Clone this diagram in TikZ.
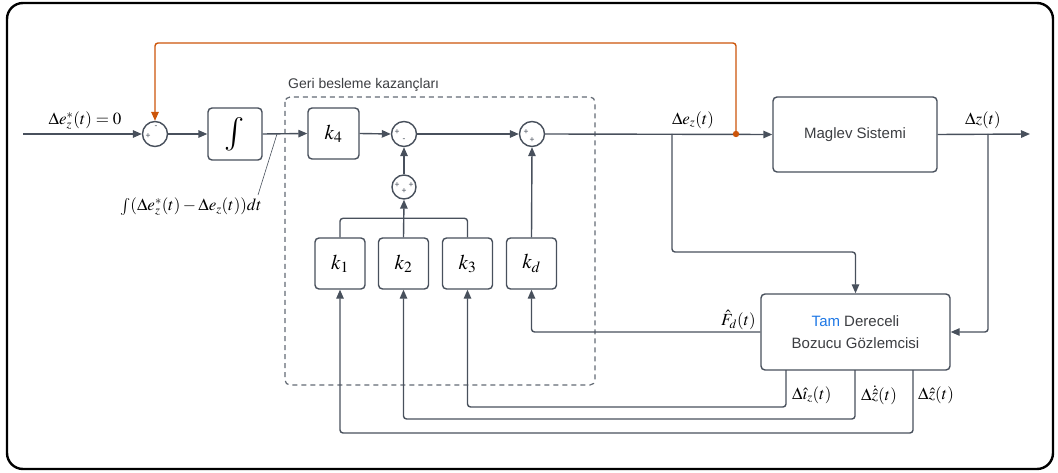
\documentclass[tikz,border=0pt]{standalone}
\usepackage{graphicx}
\usepackage{mathptmx}
\usepackage[no-math]{fontspec}
\setsansfont{Liberation Sans}
\usetikzlibrary{arrows.meta,calc}
\definecolor{linec}{RGB}{72,80,92}
\definecolor{txtc}{RGB}{60,62,66}
\definecolor{fbc}{RGB}{204,85,10}
\definecolor{tamc}{RGB}{30,120,230}
\tikzset{
  blk/.style={draw=linec,line width=1.4pt,rounded corners=4pt,fill=white,inner sep=0pt},
  sumc/.style={draw=linec,line width=1.4pt,circle,minimum size=25pt,inner sep=0pt,fill=white},
  sgn/.style={font=\sffamily\fontsize{8.5}{8.5}\selectfont,text=linec,inner sep=0pt},
  sig/.style={draw=linec,line width=1.4pt,rounded corners=3pt},
  arr/.style={sig,-{Triangle[length=9pt,width=7.5pt]}},
  fbarr/.style={draw=fbc,line width=1.4pt,rounded corners=3pt,-{Triangle[length=9pt,width=7.5pt]}},
  mlab/.style={font=\fontsize{17}{19}\selectfont,inner sep=0pt},
  klab/.style={font=\fontsize{21}{23}\selectfont},
  slab/.style={font=\sffamily\fontsize{15}{22}\selectfont,text=txtc,align=center}
}
\begin{document}
\begin{tikzpicture}[x=1pt,y=-1pt]
\useasboundingbox (0,0) rectangle (1058,473);
% outer frame
\draw[line width=2.4pt,rounded corners=16pt] (7,3) rectangle (1053,469);

% feedback gains group
\draw[draw=linec!85,line width=1.2pt,dashed,dash pattern=on 5pt off 4pt,rounded corners=5pt] (285,97) rectangle (595,385);
\node[font=\sffamily\fontsize{14}{16}\selectfont,text=txtc,anchor=south west,inner sep=0pt] (grp) at (288,92) {Geri besleme kazançları};

% summing junctions
\node[sumc] (s1) at (155,134) {};
\node[sgn] at ($(s1)+(-7,2)$) {+};
\node[sgn] at ($(s1)+(1,-7)$) {-};
\node[sumc] (s2) at (404,134) {};
\node[sgn] at ($(s2)+(-7,-2)$) {+};
\node[sgn] at ($(s2)+(0,6)$) {-};
\node[sumc] (s3) at (532,134) {};
\node[sgn] at ($(s3)+(-6,-2)$) {+};
\node[sgn] at ($(s3)+(0,6)$) {+};
\node[sumc,minimum size=24pt] (s4) at (404,187) {};
\node[sgn] at ($(s4)+(-7,-2)$) {+};
\node[sgn] at ($(s4)+(0,4)$) {+};
\node[sgn] at ($(s4)+(7,-2)$) {+};

% blocks
\node[blk,minimum width=54pt,minimum height=52pt,klab] (int) at (235,134) {\scalebox{1.6}{$\int$}};
\node[blk,minimum width=51pt,minimum height=51pt,klab] (k4) at (333.5,133.5) {$k_4$};
\node[blk,minimum width=50pt,minimum height=51pt,klab] (k1) at (340,263.5) {$k_1$};
\node[blk,minimum width=50pt,minimum height=51pt,klab] (k2) at (403.5,263.5) {$k_2$};
\node[blk,minimum width=50pt,minimum height=51pt,klab] (k3) at (467.5,263.5) {$k_3$};
\node[blk,minimum width=50pt,minimum height=51pt,klab] (kd) at (531.5,263.5) {$k_d$};
\node[blk,minimum width=164pt,minimum height=75pt,slab] (mag) at (855,134.5) {Maglev Sistemi};
\node[blk,minimum width=189pt,minimum height=76pt,slab] (obs) at (855.5,332) {\textcolor{tamc}{Tam} Dereceli\\Bozucu Gözlemcisi};

% branch points
\coordinate (in) at (23,134);
\coordinate (tap) at (277,134);
\coordinate (ez) at (672,134);
\coordinate (fb) at (736,134);
\coordinate (zb) at (988,134);
\coordinate (out) at (1030,134);
\coordinate (o1) at (786,370);
\coordinate (o2) at (855,370);
\coordinate (o3) at (913,370);

% forward path
\draw[arr] (in) -- (s1.west);
\draw[arr] (s1.east) -- (int.west);
\draw[arr] (int.east) -- (k4.west);
\draw[arr] (k4.east) -- (s2.west);
\draw[arr] (s2.east) -- (s3.west);
\draw[arr] (s3.east) -- (mag.west);
\draw[arr] (mag.east) -- (out);

% gain combination
\draw[sig] (k1.north) -- ++(0,-19) -| (k3.north);
\draw[arr] (k2.north) -- (s4.south);
\draw[arr] (s4.north) -- (s2.south);
\draw[arr] (kd.north) -- (s3.south);

% observer inputs
\draw[arr] (ez) -- (672,252) -| (obs.north);
\draw[arr] (zb) |- (obs.east);

% observer outputs
\draw[arr] (obs.west) -| (kd.south);
\draw[arr] (o1) -- (786,407) -| (k3.south);
\draw[arr] (o2) -- (855,419) -| (k2.south);
\draw[arr] (o3) -- (913,433) -| (k1.south);

% integral-error feedback
\draw[fbarr] (fb) -- (736,43) -| (s1.north);
\fill[fbc] (fb) circle (3.2pt);

% labels
\node[mlab] (lin) at (85,121) {$\Delta e_z^{*}(t)=0$};
\node[mlab,anchor=east] (lint) at (262,207) {$\int(\Delta e_z^{*}(t)-\Delta e_z(t))dt$};
\coordinate (ann) at (258,195);
\draw[draw=linec,line width=0.6pt] (ann) -- (tap);
\node[mlab] (lez) at (693,120) {$\Delta e_z(t)$};
\node[mlab] (lz) at (983,120) {$\Delta z(t)$};
\node[mlab,anchor=east] (lfd) at (756,320) {$\hat{F}_d(t)$};
\node[mlab,anchor=west] (lo1) at (792,395) {$\Delta\hat{\imath}_z(t)$};
\node[mlab,anchor=west] (lo2) at (861,395) {$\Delta\dot{\hat{z}}(t)$};
\node[mlab,anchor=west] (lo3) at (918,395) {$\Delta\hat{z}(t)$};
\end{tikzpicture}
\end{document}
